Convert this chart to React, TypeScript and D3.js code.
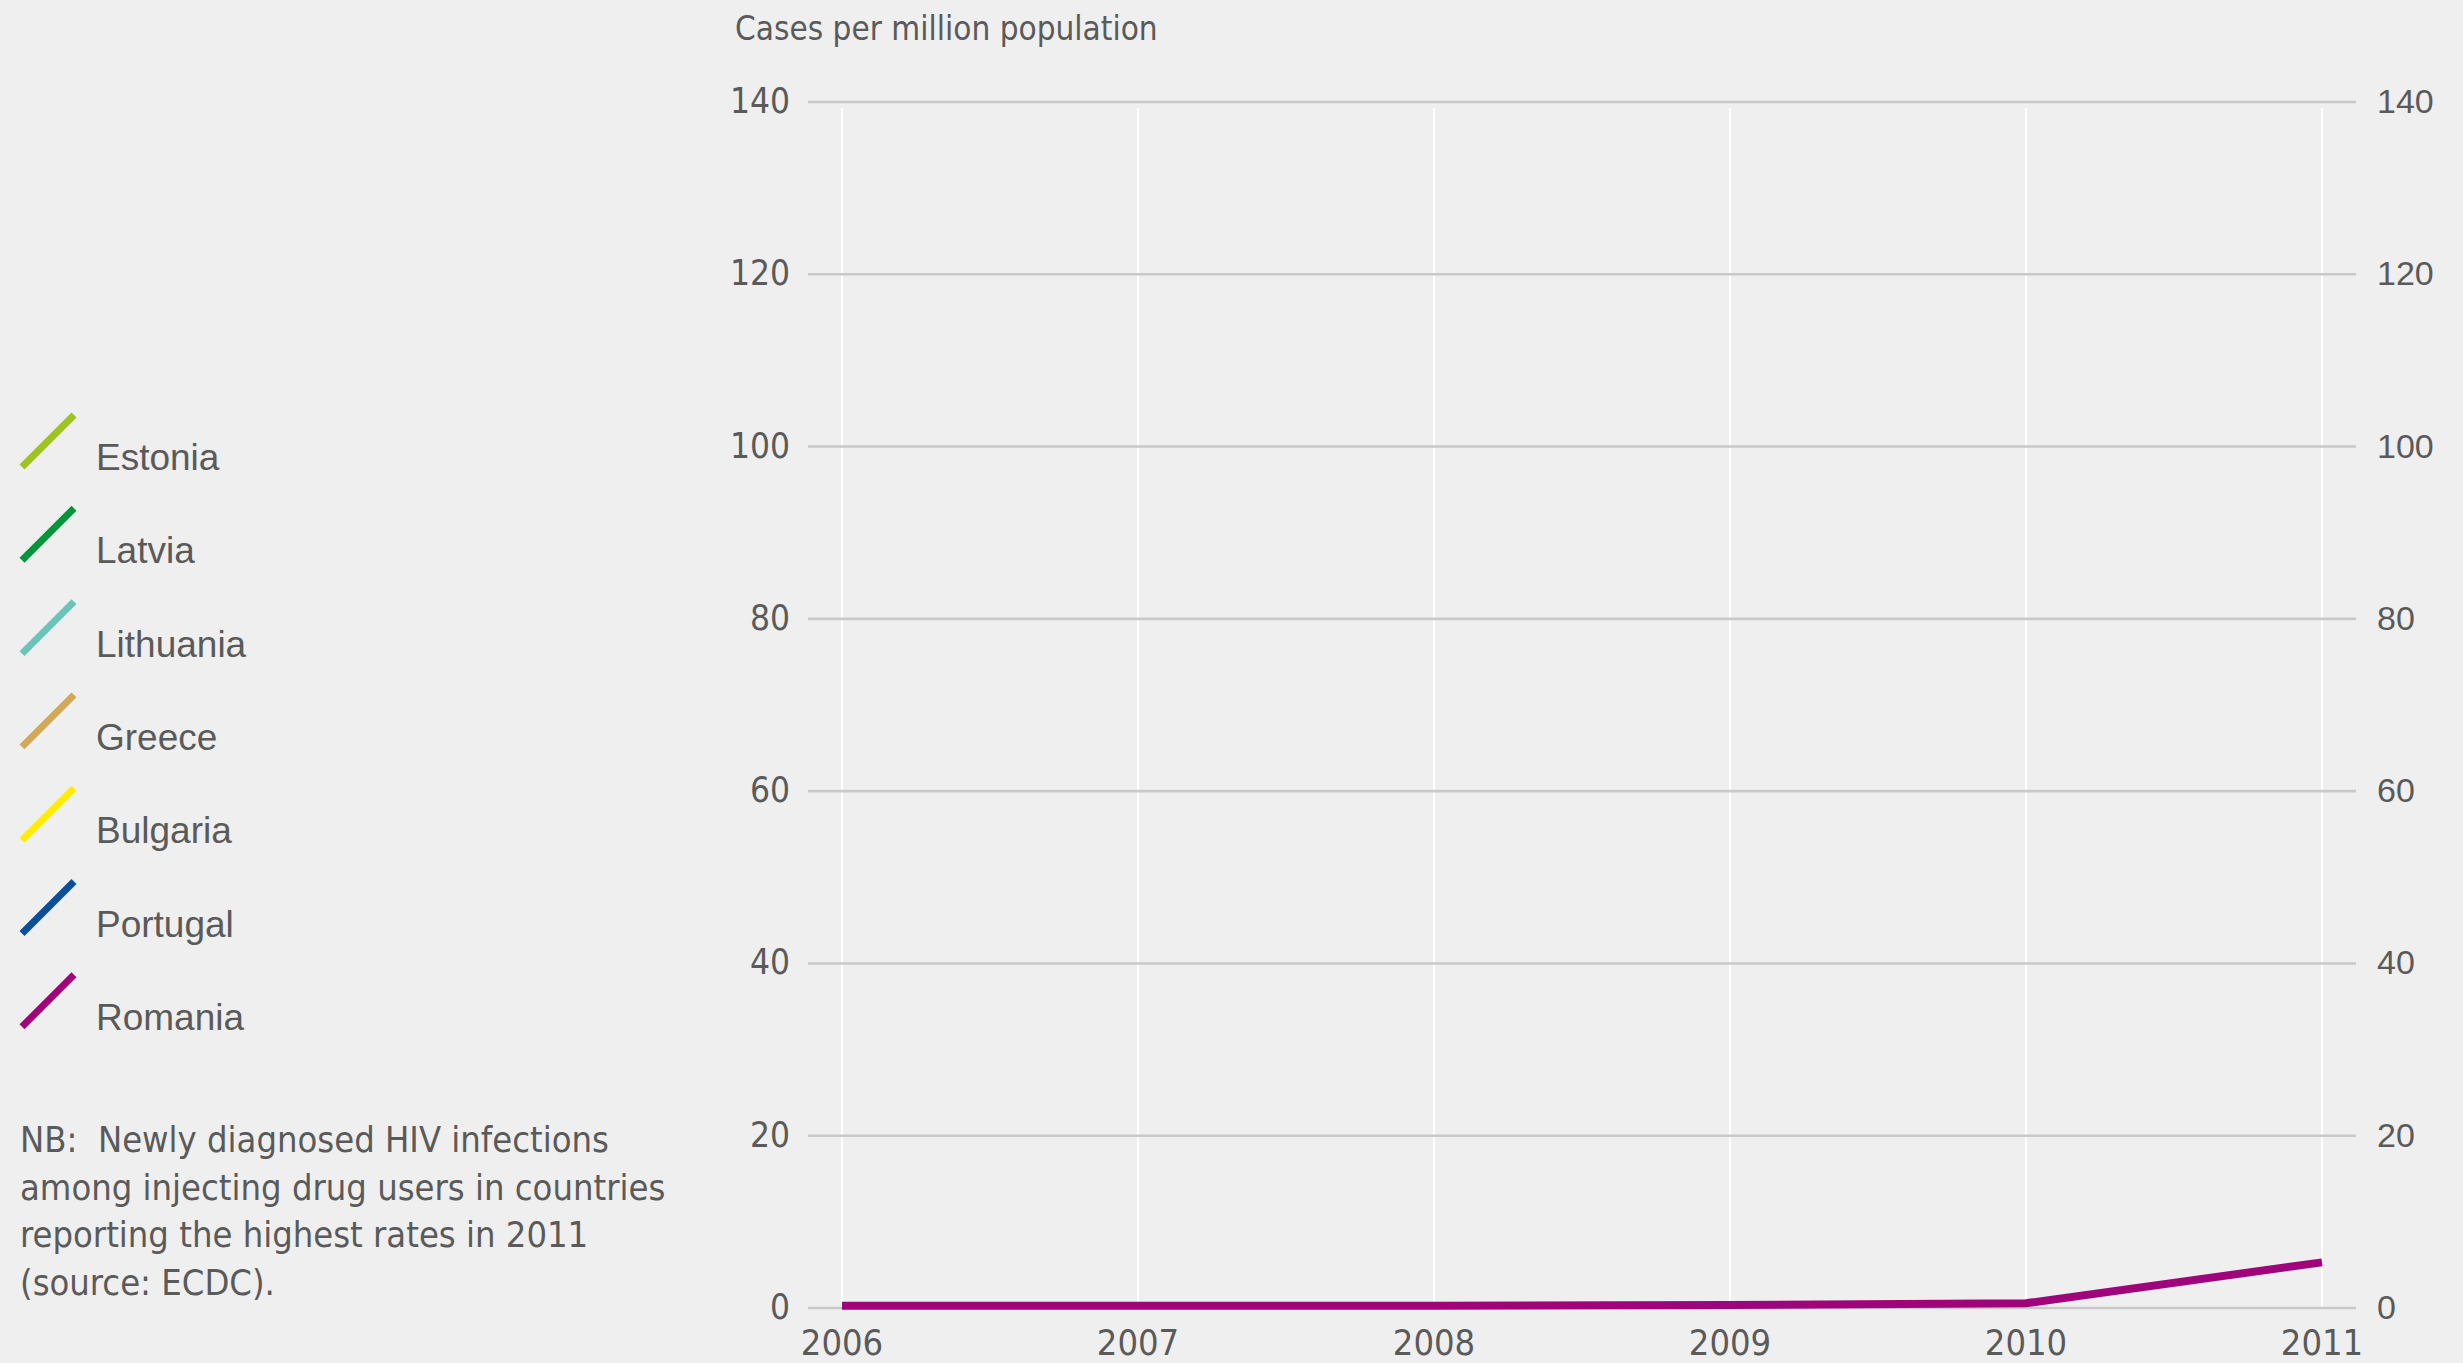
import React from "react";
import * as d3 from "d3";

const years = [2006, 2007, 2008, 2009, 2010, 2011];
const yTicks = [0, 20, 40, 60, 80, 100, 120, 140];
const countries = ["Estonia", "Latvia", "Lithuania", "Greece", "Bulgaria", "Portugal", "Romania"];
const countryColors = ["#9dc41f", "#00963a", "#6cc4b9", "#d3a959", "#ffed00", "#0a4f9e", "#a0047a"];
const romaniaValues = [0.25, 0.25, 0.25, 0.35, 0.55, 5.3];
const yTitle = "Cases per million population";
const noteLines = [
  "NB:  Newly diagnosed HIV infections",
  "among injecting drug users in countries",
  "reporting the highest rates in 2011",
  "(source: ECDC).",
];

const W = 2463;
const H = 1363;
const TEXT = "#5a5a5a";
const COND = "'Liberation Sans Narrow', 'DejaVu Sans Condensed', 'Roboto', sans-serif";
const REG = "'Liberation Sans', 'Noto Sans', sans-serif";

export default function App() {
  const x = d3.scaleLinear().domain([2006, 2011]).range([842, 2322]);
  const y = d3.scaleLinear().domain([0, 140]).range([1308, 102]);
  const line = d3
    .line<number>()
    .x((_, i) => x(years[i]))
    .y((d) => y(d));

  return (
    <div style={{ position: "absolute", left: 0, top: 0 }}>
      <svg width={W} height={H} style={{ display: "block", background: "#efefef" }}>
        <rect width={W} height={H} fill="#efefef" />
        {years.map((yr) => (
          <line key={"v" + yr} x1={x(yr)} x2={x(yr)} y1={y(140) + 6} y2={y(0)} stroke="#ffffff" strokeWidth={2} />
        ))}
        {yTicks.map((t) => (
          <line key={"h" + t} x1={808} x2={2356} y1={y(t)} y2={y(t)} stroke="#c9c9c9" strokeWidth={2.6} />
        ))}
        {yTicks.map((t) => (
          <text key={"l" + t} x={790} y={y(t) + 11} textAnchor="end" fontFamily={COND} fontSize={35} fill={TEXT}>
            {t}
          </text>
        ))}
        {yTicks.map((t) => (
          <text key={"r" + t} x={2377} y={y(t) + 11} textAnchor="start" fontFamily={REG} fontSize={34} fill={TEXT}>
            {t}
          </text>
        ))}
        {years.map((yr) => (
          <text key={"x" + yr} x={x(yr)} y={1355} textAnchor="middle" fontFamily={COND} fontSize={36} fill={TEXT}>
            {yr}
          </text>
        ))}
        <text x={735} y={40} fontFamily={COND} fontSize={33} fill={TEXT}>
          {yTitle}
        </text>
        <path d={line(romaniaValues) || ""} fill="none" stroke={countryColors[6]} strokeWidth={8} strokeLinejoin="miter" />
        {countries.map((c, i) => {
          const by = 470 + i * 93.3;
          return (
            <g key={c}>
              <line x1={22} y1={by - 3} x2={74} y2={by - 55} stroke={countryColors[i]} strokeWidth={7} />
              <text x={96} y={by} fontFamily={REG} fontSize={37} fill={TEXT}>
                {c}
              </text>
            </g>
          );
        })}
        {noteLines.map((l, i) => (
          <text key={i} x={20} y={1152 + i * 47.7} fontFamily={COND} fontSize={36} fill={TEXT} style={{ whiteSpace: "pre" }}>
            {l}
          </text>
        ))}
      </svg>
    </div>
  );
}
